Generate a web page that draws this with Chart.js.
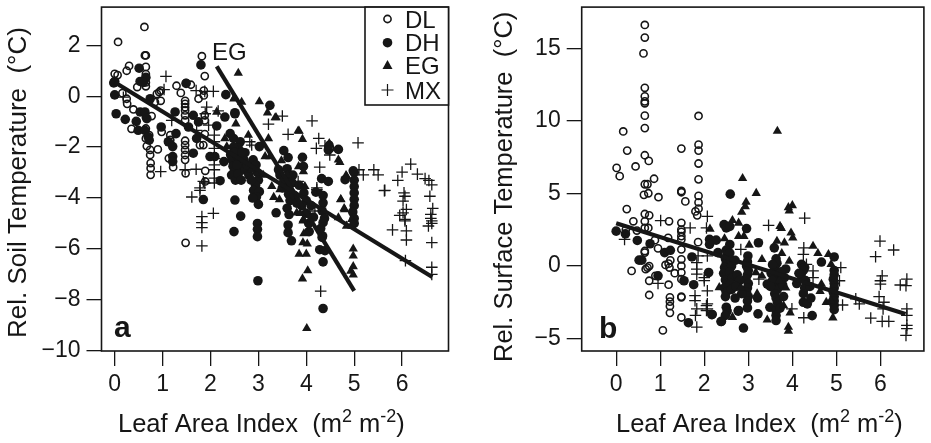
<!DOCTYPE html>
<html>
<head>
<meta charset="utf-8">
<title>Soil and surface temperature vs leaf area index</title>
<script src="https://cdn.jsdelivr.net/npm/chart.js@4"></script>
<style>
  body { margin: 0; background: #fff; }
  canvas { position: absolute; top: 0; }
</style>
</head>
<body>
<canvas id="soilChart" style="left:0" width="465" height="443"></canvas>
<canvas id="surfaceChart" style="left:465px" width="466" height="443"></canvas>
<script>
// Values, [leaf area index, temperature]
const xTicks = [0, 1, 2, 3, 4, 5, 6];
const soilTicks = [2, 0, -2, -4, -6, -8, -10];
const surfaceTicks = [15, 10, 5, 0, -5];
const seriesNames = ['DL', 'DH', 'EG', 'MX'];

// Panel a
const dlSoil = [[.62,2.72],[.07,2.13],[.63,1.6],[.65,1.6],[1.82,1.57],[.3,1.19],[.25,1],[.65,1.15],[0,.88],[.06,.83],[.65,.87],[1.88,.79],
  [.65,.7],[.65,.54],[.65,.39],[.47,.36],[1.29,.41],[1.59,.45],[1.49,.52],[1.38,.13],[.96,.22],[.93,.16],[.88,.09],[1.86,.22],[1.86,.03],[1.75,-.1],
  [.16,.12],[.25,-.1],[.26,-.3],[.96,-.18],[.84,-.23],[.39,-.52],[.77,-.78],[.65,-.82],[.35,-1.28],[.65,-1.27],[.98,-1.4],
  [1.47,-.18],[1.47,-.3],[1.47,-.43],[1.47,-.56],[1.47,-.75],[1.47,-.95],[1.88,-.75],[1.88,-.95],[1.88,-1.49],[1.16,-1.53],[1.16,-1.72],
  [1.47,-1.75],[1.47,-1.92],[1.47,-2.11],[1.47,-2.31],[1.47,-2.5],[.67,-1.96],[.74,-2.11],[.9,-2.09],[.74,-2.31],[.75,-2.63],[.75,-2.83],[.75,-3.09],
  [1.13,-2.44],[1.22,-2.79],[1.48,-3.03],[1.89,-2.93],[1.89,-3.35],[1.85,-1.92],[1.78,-1.92],[.65,-1.66],[.72,-1.53],[1.48,-5.76],[4.48,-1.91],[4.46,-1.98],[4.5,-2.05]];
const dhSoil = [[.51,1.1],[.65,.74],[.53,.58],[.6,.54],[0,.58],[-.02,.52],[0,.05],[.03,-.69],[.22,-.91],[.45,-.99],[.53,-.62],[.63,-.62],[.74,-.1],[.67,-.88],
  [.49,-1.34],[.63,-1.34],[.7,-1.6],[.72,-1.73],[.97,-1.21],[1.26,-.62],[1.49,.5],[1.8,1.23],[2.32,.06],[2.51,-.65],[2.3,-.82],[1.64,-.75],[1.75,-1.01],[2.13,-1.17],
  [1.28,-1.47],[1.12,-1.79],[1.21,-1.98],[1.21,-2.37],[1.21,-2.57],[1.64,-2.24],[1.71,-1.66],[1.54,-1.21],
  [3.24,-.36],[2.51,-.69],[2.41,-1.47],[2.48,-1.66],[2.62,-1.79],[2.58,-2.05],[2.48,-2],[2.72,-2.22],[3.02,-1.98],[2.89,-2.5],[3.53,-2.14],[3.62,-2.41],[3.92,-2.4],[3.94,-2.76],[3.42,-2.89],
  [4.46,-2.11],[4.67,-2.09],[4.32,-3.24],[4.46,-3.35],[4.98,-2.93],[4.81,-3.28],[2.51,-4.08],[2.63,-4.71],[3.37,-4.58],[2.49,-5.32],[2.98,-5],[2.98,-5.23],[2.98,-5.52],
  [3.62,-5.06],[3.62,-5.36],[3.69,-5.68],[4.34,-5.49],[4.2,-3.77],[4.35,-4.19],[4.35,-4.97],[2.2,-3.32],[2.09,-2.37],[1.99,-2.37],[2.28,-2.57],[1.85,-4.06],
  [2.99,-7.25],[4.35,-8.34],[4.35,-6.51],[4.28,-6.03],[4.39,-6.07],[4.33,-5.55],[4.06,-5.32],
  [2.42,-2.3],[2.45,-2.5],[2.47,-2.75],[2.5,-2.95],[2.44,-3.1],[2.52,-3.3],[2.56,-2.35],[2.6,-2.6],[2.62,-2.85],[2.58,-3.05],[2.64,-3.3],[2.7,-2.5],[2.72,-2.9],
  [2.95,-2.7],[2.98,-3],[3,-3.3],[2.94,-3.5],[2.9,-3.7],[3.02,-3.75],[2.96,-3.95],[3,-4.25],[2.88,-4],[3.6,-2.85],[3.65,-3.1],[3.55,-3.35],[3.62,-3.6],[3.7,-3.4],[3.63,-3.85],[3.66,-4.1],[3.6,-4.4],[3.64,-4.65],
  [3.85,-3.5],[3.95,-3.8],[4,-4.1],[3.9,-4.3],[4,-4.6],[4.05,-5],[4.35,-3.9],[4.33,-4.5],[4.38,-4.8],[4.3,-5.2],
  [5,-3],[5,-3.3],[5,-3.55],[5,-3.8],[5,-4.05],[5,-4.3],[4.97,-4.55],[5,-4.8],[5,-5],
  [2.5,-2.2],[2.55,-2.7],[2.66,-2.2],[2.76,-2.7],[2.8,-3.1],[2.85,-3.3],[3.75,-3.9],[3.8,-4.2],[3.72,-3.1],[4.1,-4.3],[4.15,-4.75],[3.45,-3.1],[3.5,-3.6]];
const egSoil = [[3.02,-.21],[3.19,-.65],[3.37,-.84],[2.5,-.06],[2.65,-.23],[2.53,-1.08],[2.79,-1.53],[3.21,-1.66],[3.85,-1.37],[3.92,-1.69],[3.14,-2.37],[3.24,-2.37],[3.48,-2.53],
  [3.28,-3.54],[3.45,-3.67],[3.32,-3.97],[3.44,-4.06],[3.84,-2.76],[3.94,-2.96],[3.97,-3.54],[3.6,-3.09],[4.67,-2.5],[4.7,-2.6],[4.84,-3.15],[4.72,-4.06],[4.79,-4.41],[4.67,-4.77],[4.95,-4.84],[4.95,-5.1],[4.84,-5.1],
  [2.3,-1.66],[2.13,-.62],[2.34,-1.98],[4,-5.36],[3.8,-4.58],[3.94,-4.84],[2.58,.91],[3.35,-.84],[2.49,-.1],
  [4.01,-9.12],[4.03,-6.85],[3.92,-7.17],[3.85,-6.2],[4,-6.2],[3.93,-5.75],[4.02,-5.8],[3.95,-5.4],[4.98,-6],[4.98,-6.27],[4.98,-6.69],[4.98,-7.02],[4.93,-6.87],
  [4.72,-4.05],[4.8,-4.45],[4.97,-5],[3.87,-4.6],[3.93,-4.9],[3.83,-1.36],[4.48,-1.85],[4.83,-3.11],[2.85,-2.9],[3.1,-3.1],[3.7,-3.7],[3.5,-3.3]];
const mxSoil = [[1.07,.78],[1.03,.26],[1.7,.22],[1.88,.19],[2.06,.19],[1.92,-.43],[1.89,-.69],[2.16,-.58],[1.96,-1.14],[1.19,-.95],[.18,-.04],
  [2.08,-1.53],[2.08,-1.79],[2.08,-2.05],[2.08,-2.44],[2.08,-2.7],[2.08,-2.89],[2.08,-3.22],[2.08,-3.41],[.96,-2.96],[1.47,-2.89],[1.7,-2.87],[1.88,-3.41],[1.78,-3.6],[1.85,-3.35],[2.86,-1.92],[3.21,-1.1],[1.71,-1.34],
  [3.5,-.78],[4.12,-.97],[3.62,-1.5],[4.26,-1.66],[4.21,-2.05],[5.08,-1.83],[4.28,-2.79],[4.39,-1.95],[4.49,-2.31],[5.1,-2.89],[5.19,-3.09],[5.41,-2.89],[5.5,-3.09],[5.63,-3.71],[5.8,-5.25],[5.91,-3.31],
  [6,-2.98],[6.18,-2.67],[6.32,-3.06],[6.48,-3.24],[6.56,-3.31],[6.62,-3.48],[6.58,-3.93],[6.64,-4.41],[6.6,-4.64],[6.6,-4.8],[6.62,-4.9],[6.62,-5],[6.55,-5.1],[6.62,-5.75],[6.62,-6.72],[6.62,-7],
  [6.04,-3.8],[6.06,-3.93],[6.02,-4.12],[6.09,-4.45],[5.95,-4.68],[6.02,-4.58],[6.06,-4.84],[6.06,-4.9],[6.09,-5.29],[6.09,-5.65],[6.07,-6.46],
  [1.61,-3.96],[1.78,-3.7],[1.82,-4.73],[1.82,-4.97],[1.82,-5.16],[2.06,-4.6],[1.82,-5.88],[4.3,-7.66],[4.18,-4.51],[4.22,-3.6],[4.3,-3.9],[2.82,-1.79],[4.22,-3.67],[4.32,-3.86],[3.83,-3.35],[5.64,-3.7]];
const fitSoilAll = [[0,.55],[6.63,-7.1]];
const fitSoilEG = [[2.13,1.17],[5,-7.65]];

// Panel b
const dlSurface = [[.65,16.62],[.65,15.75],[.62,14.66],[.65,12.29],[.65,11.7],[.65,11.35],[.65,11.22],[.65,10.37],[1.87,10.35],[.65,9.51],[.16,9.28],[.25,7.96],[.65,7.64],[.74,7.25],[.44,6.87],[.01,6.77],[.08,6.2],
  [1.48,8.1],[1.87,8.37],[1.87,7.96],[1.87,7.07],[1.87,5.98],[1.87,4.84],[.86,6.02],[.65,5.64],[.71,5.64],[.63,4.91],[.73,5.02],[.96,4.75],[1.48,5.18],[1.48,5.09],[1.57,4.46],[1.87,4.39],[1.87,3.96],[1.8,3.77],[1.84,3.5],
  [.24,3.93],[.65,3.59],[.75,3.5],[.65,3.09],[.39,3.09],[1.2,3.09],[1.48,2.98],[1.48,2.52],[1.48,2.36],[1.48,2.07],[1.48,1.84],[.22,2.52],[.73,2.63],[.65,2.63],[.47,2.45],[.88,1.79],[1.18,1.95],[1.86,1.65],[.95,1.22],[.65,1.04],[.65,.93],[1.48,1.15],
  [1.23,.4],[1.19,.17],[1.12,.08],[1.21,-.1],[1.48,.47],[1.48,.01],[1.48,-.44],[1.33,-.49],[.35,-.33],[.75,0],[.67,-.21],[.71,-.1],[.89,-.67],[.75,-1.01],[1.19,-1.28],[1.48,-.9],[.75,-1.99],[1.22,-2.15],[1.22,-2.45],[1.22,-2.76],[1.22,-3.22],[1.48,-2.1],[1.48,-2.15],[1.48,-3.54],[1.06,-4.43]];
const dhSurface = [[2.59,4.96],[0,2.41],[.21,2.22],[.48,1.77],[.77,1.54],[1.1,.93],[1.23,1.09],[.52,.41],[.58,.41],[.95,-.67],[1.54,-1.01],[1.76,-1.28],[1.72,.63],[1.64,-3.9],[2.18,-3.33],[2.39,-3.81],[2.5,-2.83],[2.52,-3.1],[2.48,-3.4],[2.77,-3.1],[2.98,-2.88],[2.89,-4.27],[3.21,-2.2],[3.22,-3.29],
  [2.12,1.84],[2.27,1.79],[2.12,1.5],[2.45,2.86],[2.5,2.63],[2.58,2.74],[2.96,2.59],[3.23,1.61],[2.31,.93],[2.1,-.44],[2.58,1.49],[3.59,1.26],[2.99,.7],[4.66,.28],[4.95,.63],[4.21,.12],[4.28,-.1],[2.78,-3.06],[2.38,-3.82],[2.17,-3.34],[3.49,-2.84],[3.63,-3.06],[3.63,-3.4],[3.63,-3.75],[4.45,-3.41],[4.25,-2.49],[4.34,-2.6],[3.43,-1.24],
  [2.5,1.1],[2.52,.8],[2.48,.5],[2.5,.2],[2.46,-.1],[2.5,-.3],[2.44,-.5],[2.5,-.7],[2.48,-.95],[2.52,-1.2],[2.46,-1.5],[2.5,-1.8],[2.48,-2.1],[2.58,.9],[2.6,.4],[2.62,0],[2.58,-.4],[2.64,-.8],[2.6,-1.2],[2.62,-1.6],
  [2.98,.3],[2.96,0],[3,-.3],[2.98,-.6],[2.94,-.9],[3,-1.2],[2.98,-1.5],[2.96,-1.8],[3,-2.1],[2.98,-2.4],[3.63,.5],[3.65,.2],[3.6,-.1],[3.63,-.4],[3.66,-.7],[3.6,-1],[3.63,-1.3],[3.66,-1.6],[3.6,-1.9],[3.63,-2.2],[3.66,-2.5],
  [3.55,.1],[3.52,-.5],[3.55,-1],[3.5,-1.4],[3.85,-.2],[3.82,-.8],[4.25,-.3],[4.2,-.6],[4.3,-1],[4.28,-1.5],[4.25,-1.9],
  [4.95,-.3],[4.95,-.6],[4.93,-.9],[4.95,-1.2],[4.95,-1.5],[4.93,-1.8],[4.95,-2.1],[4.95,-2.4],[4.95,-2.7],[4.95,-3],
  [2.7,.4],[2.75,-.6],[2.8,-1],[2.72,-1.4],[2.85,-1.9],[2.7,-2.2],[3.75,-.4],[3.78,-1.3],[3.8,-2.1],[3.72,-2.9],[4.1,-1.2],[4.15,-.5],[4.4,-1.4],[4.42,-2.2]];
const egSurface = [[3.66,9.3],[2.87,6.05],[3.18,5.02],[2.95,4.41],[2.93,4.11],[2.85,3.72],[3.91,4.04],[4,4.18],[3.93,3.82],[3.72,2.75],[3.75,2.6],[3.97,2.29],[4.01,1.95],[2.64,3.15],[2.78,2.97],[2.13,2.56],[2.78,2.06],[2.9,2.06],[3.02,1.45],[2.46,1.9],[3.65,1.72],[3.82,1.61],[4.47,1.38],[4.58,.88],[4.82,.81],[4.88,.12],[3.76,.88],[3.31,.47],[3.93,.35],[3.17,-.44],[3.31,-.67],[2.34,-1.47],[4.66,-1.24],[4.63,-1.74],[4.77,-2.49],[4.87,-2.38],[4.92,-3.56],[2.64,-3.52],[3.43,-3.7],[3.91,-4.2],[3.91,-4.48],[3.95,-3.22],[2.83,-1.47],[3.8,-2.72],[3.85,-1.5],[3.7,-1],[3.2,-1.9]];
const mxSurface = [[2.07,3.43],[2.05,2.63],[3.46,2.81],[4.28,3.31],[2.83,1.15],[4.26,1.26],[4.25,.81],[5.1,-.1],[5.07,-1.01],[4.47,-.33],[4.47,-.79],[5.14,-2.68],[4.26,-3.56],[2.07,.7],[2.07,-1.7],[2.07,-2.6],[2.07,-2.95],[3.24,-.9],[3.99,-2.95],[2,-.8],[2,-1],[4.32,.12],
  [1.01,3.14],[1.68,2.63],[.19,1.84],[1.86,.7],[1.83,.24],[1.83,-.21],[1.83,-.55],[.95,-1.19],[1.79,-2.04],[1.79,-2.38],[1.83,-2.95],[1.8,-3.4],[2.05,-2.72],[2.05,-3.06],[1.83,-4.2],
  [5.44,-2.26],[5.52,-2.6],[5.99,1.72],[5.89,.65],[6.3,1.11],[6.04,-.67],[6,-1.01],[6,-1.24],[5.97,-2.1],[6.08,-2.49],[6.06,-2.95],[5.78,-3.58],[6.04,-3.81],[6.19,-3.81],[6.6,-.9],[6.45,-1.3],[6.58,-1.35],[6.6,-2.95],[6.6,-3.4],[6.6,-4.08],[6.6,-4.31],[6.58,-4.77]];
const fitSurface = [[0,2.96],[6.57,-3.3]];

const ink = '#161616';

// axis label with raised bits, pieces are [text, raised]
function drawParts(ctx, t) {
  let x = t.x;
  t.parts.forEach(([text, raised]) => {
    ctx.font = raised ? '18px "Liberation Sans"' : t.font;
    ctx.fillText(text, x, raised ? t.y - 10 : t.y);
    x += ctx.measureText(text).width;
  });
}

// frame round the plot plus the texts and legend that sit on top of it
const panelDecor = {
  id: 'panelDecor',
  afterDraw(chart, args, opts) {
    const ctx = chart.ctx, area = chart.chartArea;
    ctx.save();
    ctx.strokeStyle = ink;
    ctx.lineWidth = 1.6;
    ctx.strokeRect(area.left, area.top, area.right - area.left, area.bottom - area.top);
    ctx.fillStyle = ink;
    ctx.textBaseline = 'alphabetic';
    opts.texts.forEach(t => {
      if (t.parts) {
        drawParts(ctx, t);
        return;
      }
      ctx.save();
      ctx.font = t.font;
      ctx.translate(t.x, t.y);
      if (t.rotate) ctx.rotate(-Math.PI / 2);
      ctx.fillText(t.text, 0, 0);
      ctx.restore();
    });
    if (opts.legend) {
      const box = opts.legend;
      ctx.fillStyle = '#fff';
      ctx.fillRect(box.x, area.top, area.right - box.x, box.bottom - area.top);
      ctx.fillStyle = ink;
      ctx.strokeRect(box.x, area.top, area.right - box.x, box.bottom - area.top);
      ctx.font = '24px "Liberation Sans"';
      seriesNames.forEach((name, i) => {
        const y = box.rows[i];
        ctx.fillText(name, box.x + 40, y + 8.5);
        drawKey(ctx, name, box.x + 22.5, y);
      });
    }
    ctx.restore();
  }
};

function drawKey(ctx, name, x, y) {
  ctx.beginPath();
  if (name === 'DL') {
    ctx.lineWidth = 1.6;
    ctx.arc(x, y, 3.6, 0, Math.PI * 2);
    ctx.stroke();
  } else if (name === 'DH') {
    ctx.arc(x, y, 4.8, 0, Math.PI * 2);
    ctx.fill();
  } else if (name === 'EG') {
    ctx.moveTo(x - 5, y + 4);
    ctx.lineTo(x + 5, y + 4);
    ctx.lineTo(x, y - 5);
    ctx.closePath();
    ctx.fill();
  } else {
    ctx.lineWidth = 1.2;
    ctx.moveTo(x - 6, y);
    ctx.lineTo(x + 6, y);
    ctx.moveTo(x, y - 6);
    ctx.lineTo(x, y + 6);
    ctx.stroke();
  }
}

function pointSet(label, data, order) {
  const styles = {
    DL: { pointStyle: 'circle', pointRadius: 3.6, pointBorderWidth: 1.6, pointBackgroundColor: 'rgba(0,0,0,0)', pointBorderColor: ink },
    DH: { pointStyle: 'circle', pointRadius: 4.8, pointBorderWidth: 0, pointBackgroundColor: ink, pointBorderColor: ink },
    EG: { pointStyle: 'triangle', pointRadius: 5.4, pointBorderWidth: 0, pointBackgroundColor: ink, pointBorderColor: ink },
    MX: { pointStyle: 'cross', pointRadius: 5.8, pointBorderWidth: 1.3, pointBackgroundColor: ink, pointBorderColor: ink }
  };
  return { type: 'scatter', label, data, order, showLine: false, ...styles[label] };
}

function fitLine(data) {
  return { type: 'line', data, order: 0, borderColor: ink, borderWidth: 4.2, pointRadius: 0, borderCapStyle: 'butt', tension: 0 };
}

// the tick labels must not push the plot area in
function noPadding(s) {
  s.paddingTop = s.paddingBottom = s.paddingLeft = s.paddingRight = 0;
}

function makePanel(id, cfg) {
  const tickFont = { family: '"Liberation Sans"', size: 23 };
  new Chart(document.getElementById(id), {
    data: {
      datasets: [
        pointSet('DL', cfg.dl, 4),
        pointSet('DH', cfg.dh, 3),
        pointSet('EG', cfg.eg, 2),
        pointSet('MX', cfg.mx, 1),
        ...cfg.fits.map(fitLine)
      ]
    },
    options: {
      responsive: false,
      animation: false,
      layout: { padding: { top: 4, right: cfg.rightPad, left: 0, bottom: 0 } },
      plugins: {
        legend: { display: false },
        tooltip: { enabled: false },
        panelDecor: { texts: cfg.texts, legend: cfg.legend }
      },
      scales: {
        x: {
          type: 'linear',
          min: cfg.xMin,
          max: cfg.xMax,
          afterFit: s => { s.height = 92; noPadding(s); },
          afterBuildTicks: s => { s.ticks = xTicks.map(v => ({ value: v })); },
          grid: { drawOnChartArea: false, color: ink, tickLength: 15, lineWidth: 1.3 },
          border: { display: false },
          ticks: { color: ink, font: tickFont, padding: 5, autoSkip: false, maxRotation: 0 }
        },
        y: {
          type: 'linear',
          min: cfg.yMin,
          max: cfg.yMax,
          afterFit: s => { s.width = cfg.yWidth; noPadding(s); },
          afterBuildTicks: s => { s.ticks = cfg.yTicks.map(v => ({ value: v })); },
          grid: { drawOnChartArea: false, color: ink, tickLength: 15, lineWidth: 1.3 },
          border: { display: false },
          ticks: {
            color: ink,
            font: tickFont,
            padding: 6,
            autoSkip: false,
            callback: v => String(v).replace('-', '\u2212')
          }
        }
      }
    },
    plugins: [panelDecor]
  });
}

const xLabelFont = '25.5px "Liberation Sans"';
const boldFont = 'bold 30px "Liberation Sans"';
const xLabelParts = [['Leaf Area Index  (m', 0], ['2', 1], [' m', 0], ['-2', 1], [')', 0]];

makePanel('soilChart', {
  dl: dlSoil, dh: dhSoil, eg: egSoil, mx: mxSoil,
  fits: [fitSoilAll, fitSoilEG],
  xMin: -0.276, xMax: 6.969, yMin: -10.01, yMax: 3.5,
  yTicks: soilTicks, yWidth: 101.5, rightPad: 16.5,
  legend: { x: 365, bottom: 105, rows: [19, 42.7, 65, 90] },
  texts: [
    { text: 'Rel. Soil Temperature  (°C)', x: 26, y: 338, font: '26px "Liberation Sans"', rotate: true },
    { parts: xLabelParts, x: 118, y: 432, font: xLabelFont },
    { text: 'EG', x: 212, y: 60, font: '24px "Liberation Sans"' },
    { text: 'a', x: 114, y: 337, font: boldFont }
  ]
});

makePanel('surfaceChart', {
  dl: dlSurface, dh: dhSurface, eg: egSurface, mx: mxSurface,
  fits: [fitSurface],
  xMin: -0.783, xMax: 6.987, yMin: -5.85, yMax: 17.85,
  yTicks: surfaceTicks, yWidth: 116.7, rightPad: 2,
  texts: [
    { text: 'Rel. Surface Temperature  (°C)', x: 47, y: 362, font: '25.5px "Liberation Sans"', rotate: true },
    { parts: xLabelParts, x: 151, y: 432, font: xLabelFont },
    { text: 'b', x: 134, y: 338, font: boldFont }
  ]
});
</script>
</body>
</html>
